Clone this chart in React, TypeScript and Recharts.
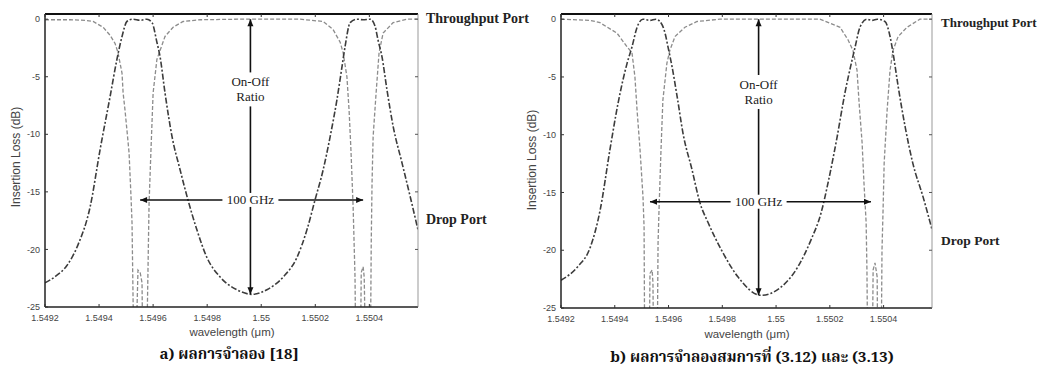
import React from "react";
import { LineChart, Line, XAxis, YAxis, ReferenceLine, ReferenceDot } from "recharts";

// ---- panel a) ----
const dropA_wl = [1.5492, 1.549241, 1.549281, 1.549322, 1.549367, 1.549404, 1.549441, 1.549466, 1.549485, 1.549503, 1.549526, 1.549552, 1.549577, 1.549596, 1.549614, 1.549626, 1.549644, 1.54967, 1.5497, 1.549729, 1.549762, 1.549799, 1.549848, 1.54991, 1.549966, 1.550021, 1.550081, 1.550132, 1.550169, 1.550199, 1.550229, 1.550255, 1.55028, 1.550299, 1.55031, 1.550329, 1.550354, 1.550377, 1.550403, 1.550421, 1.550432, 1.550447, 1.550465, 1.550488, 1.550521, 1.550551, 1.55058];
const dropA_db = [-22.9, -22.3, -21.4, -19.6, -16.3, -11.3, -6.7, -3.5, -1.5, -0.2, 0, -0.1, 0, -0.3, -2, -3.3, -6.4, -10.2, -13.1, -15.7, -18.3, -20.7, -22.4, -23.5, -23.9, -23.5, -22.4, -20.7, -18.3, -15.7, -13.1, -10.2, -7, -4.1, -2.4, -0.3, 0, -0.05, 0, -0.6, -1.8, -3.3, -6.1, -9.3, -12.5, -15.4, -18.3];
const thruA_wl = [1.5492, 1.549293, 1.549348, 1.549378, 1.549415, 1.549441, 1.549459, 1.54947, 1.549485, 1.549489, 1.549496, 1.549503, 1.549511, 1.549518, 1.549522, 1.549526, 1.549533, 1.549544, 1.549552, 1.549559, 1.549563, 1.549574, 1.549581, 1.549585, 1.549592, 1.5496, 1.549614, 1.549626, 1.549644, 1.549674, 1.549711, 1.549774, 1.549922, 1.550144, 1.550229, 1.550266, 1.550292, 1.550303, 1.550317, 1.550325, 1.550332, 1.55034, 1.550347, 1.550351, 1.550366, 1.55037, 1.550377, 1.550381, 1.550388, 1.550403, 1.550407, 1.55041, 1.550414, 1.550425, 1.550436, 1.550451, 1.550488, 1.550539, 1.55058];
const thruA_db = [-0.05, -0.05, -0.1, -0.2, -0.7, -1.4, -2.1, -2.9, -4.7, -6.4, -7.9, -9.6, -11.6, -15.3, -17.7, -24.6, -32, -21.8, -22, -22.9, -32, -32, -21.8, -16, -11.4, -6.4, -3.5, -2.7, -1.5, -0.7, -0.2, -0.05, 0, 0, -0.2, -0.9, -2, -2.9, -5, -7.9, -11.4, -16.3, -22.4, -32, -32, -22, -21.5, -22.4, -32, -32, -19.4, -14.2, -10.2, -6.4, -2.9, -1.2, -0.3, 0, 0];

// ---- panel b) ----
const dropB_wl = [1.5492, 1.549263, 1.549308, 1.549345, 1.549382, 1.549412, 1.549446, 1.549464, 1.549483, 1.549505, 1.549531, 1.549553, 1.549568, 1.549587, 1.549598, 1.549613, 1.549632, 1.549654, 1.549687, 1.549717, 1.549747, 1.549795, 1.549858, 1.549944, 1.550018, 1.550082, 1.55013, 1.550167, 1.550193, 1.550227, 1.550256, 1.550283, 1.550294, 1.550312, 1.550338, 1.550357, 1.550376, 1.550405, 1.550424, 1.550435, 1.550454, 1.55048, 1.550509, 1.550547, 1.55058];
const dropB_db = [-22.6, -21.4, -19.8, -16.6, -11.3, -7.3, -3.8, -2.4, -0.7, 0, -0.1, 0, -0.2, -1.2, -2.4, -4.1, -6.7, -9.9, -13.0, -15.9, -17.6, -19.9, -22.3, -23.9, -23.2, -21.4, -19.1, -16.8, -14.2, -10.2, -6.4, -3.5, -2.4, -0.7, 0, -0.1, 0, -0.2, -1.5, -2.9, -5.8, -9.3, -12.5, -15.4, -18.2];
const thruB_wl = [1.5492, 1.549308, 1.549345, 1.549408, 1.549446, 1.549464, 1.549475, 1.549483, 1.549494, 1.549505, 1.549509, 1.549512, 1.549527, 1.549531, 1.549539, 1.549542, 1.549546, 1.549557, 1.549561, 1.549565, 1.549572, 1.549579, 1.549594, 1.549605, 1.549624, 1.549661, 1.549706, 1.549791, 1.550089, 1.550163, 1.550238, 1.550268, 1.550286, 1.550301, 1.550309, 1.55032, 1.550327, 1.550335, 1.550338, 1.550342, 1.550357, 1.550361, 1.550368, 1.550376, 1.550379, 1.55039, 1.550394, 1.550398, 1.550402, 1.550413, 1.550424, 1.550435, 1.550454, 1.550487, 1.550535, 1.55058];
const thruB_db = [0, -0.1, -0.3, -1.2, -2.4, -2.9, -5, -7.9, -11.3, -15.4, -18, -32, -32, -22, -21.7, -22.8, -32, -32, -19.4, -16.2, -11.3, -7, -3.8, -2.7, -1.5, -0.7, -0.2, 0, 0, 0, -0.7, -1.8, -2.7, -4.4, -7.3, -10.7, -14.2, -17.6, -21.7, -32, -32, -21.7, -21.1, -22.3, -32, -32, -20, -16.5, -12.5, -7.9, -4.4, -2.7, -1.5, -0.7, 0, 0];

// axes
const wlTicks = [1.5492, 1.5494, 1.5496, 1.5498, 1.55, 1.5502, 1.5504];
const dbTicks = [0, -5, -10, -15, -20, -25];
const wlDomain = [1.5492, 1.55058];
const dbDomain = [-25, 0.45];

// annotations: [wavelength of on-off arrow, its bottom dB, label dB], [100GHz from, to, dB]
const onOffA = [1.54996, -23.9, -6.1];
const ghzA = [1.549552, 1.550377, -15.7];
const onOffB = [1.549935, -23.9, -6.3];
const ghzB = [1.549531, 1.550353, -15.8];

const rows = (wl: number[], db: number[]) => wl.map((w, i) => ({ wl: w, db: db[i] }));

const SANS = "Arial, 'Liberation Sans', Helvetica, sans-serif";
const SERIF = "'Times New Roman', 'Liberation Serif', 'DejaVu Serif', serif";
const THAI = "'Noto Serif Thai', 'Noto Sans Thai', 'Tlwg Typo', Norasi, Loma, Garuda, 'Liberation Serif', serif";

const fmtWl = (v: number) => String(+v.toFixed(4));

const BottomTick = ({ x, y, payload }: any) => (
  <g>
    <line x1={x} y1={y} x2={x} y2={y - 3} stroke="#333" />
    <text x={x} y={y + 14} textAnchor="middle" fontSize={9} fill="#444" fontFamily={SANS}>
      {fmtWl(payload.value)}
    </text>
  </g>
);
const TopTick = ({ x, y }: any) => <line x1={x} y1={y} x2={x} y2={y + 3} stroke="#333" />;
const LeftTick = ({ x, y, payload }: any) => (
  <g>
    <line x1={x} y1={y} x2={x + 3} y2={y} stroke="#333" />
    <text x={x - 5} y={y} dy="0.35em" textAnchor="end" fontSize={9} fill="#444" fontFamily={SANS}>
      {payload.value}
    </text>
  </g>
);
const RightTick = ({ x, y }: any) => <line x1={x} y1={y} x2={x - 3} y2={y} stroke="#555" />;

const head = (x: number, y: number, a: number) => {
  const L = 7, W = 3;
  const bx = x - L * Math.cos(a), by = y - L * Math.sin(a);
  const px = -Math.sin(a) * W, py = Math.cos(a) * W;
  return `${x},${y} ${bx + px},${by + py} ${bx - px},${by - py}`;
};

const DoubleArrow = ({ x1, y1, x2, y2 }: any) => {
  const a = Math.atan2(y2 - y1, x2 - x1);
  return (
    <g>
      <line x1={x1} y1={y1} x2={x2} y2={y2} stroke="#111" strokeWidth={1.6} />
      <polygon points={head(x2, y2, a)} fill="#111" />
      <polygon points={head(x1, y1, a + Math.PI)} fill="#111" />
    </g>
  );
};

const Note = ({ cx, cy, lines, w, h }: any) => (
  <g>
    <rect x={cx - w / 2} y={cy - h / 2} width={w} height={h} fill="#fff" />
    {lines.map((t: string, i: number) => (
      <text key={i} x={cx} y={cy + (i - (lines.length - 1) / 2) * 15} dy="0.35em" textAnchor="middle" fontSize={13} fill="#222" fontFamily={SERIF}>
        {t}
      </text>
    ))}
  </g>
);

function Panel({ left, width, margin, drop, thru, onOff, ghz }: any) {
  const common = { xAxisId: "b", yAxisId: "l" };
  return (
    <div style={{ position: "absolute", left, top: 0 }}>
      <LineChart width={width} height={374} margin={margin}>
        <XAxis xAxisId="b" dataKey="wl" type="number" domain={wlDomain} ticks={wlTicks} interval={0} allowDataOverflow height={20} tickSize={0} tickMargin={0} tickLine={false} axisLine={{ stroke: "#222", strokeWidth: 1.5 }} tick={(p: any) => <BottomTick {...p} />} />
        <XAxis xAxisId="t" orientation="top" dataKey="wl" type="number" domain={wlDomain} ticks={wlTicks} interval={0} allowDataOverflow height={1} tickSize={0} tickMargin={0} tickLine={false} axisLine={{ stroke: "#111", strokeWidth: 2.2 }} tick={(p: any) => <TopTick {...p} />} />
        <YAxis yAxisId="l" type="number" domain={dbDomain} ticks={dbTicks} interval={0} allowDataOverflow width={30} tickSize={0} tickMargin={0} tickLine={false} axisLine={{ stroke: "#222", strokeWidth: 1.5 }} tick={(p: any) => <LeftTick {...p} />} />
        <YAxis yAxisId="r" orientation="right" type="number" domain={dbDomain} ticks={dbTicks} interval={0} allowDataOverflow width={1} tickSize={0} tickMargin={0} tickLine={false} axisLine={{ stroke: "#999", strokeWidth: 1 }} tick={(p: any) => <RightTick {...p} />} />
        <Line {...common} data={thru} dataKey="db" type="linear" stroke="#8c8c8c" strokeWidth={1.3} strokeDasharray="4 2" dot={false} isAnimationActive={false} />
        <Line {...common} data={drop} dataKey="db" type="monotone" stroke="#3c3c3c" strokeWidth={1.6} strokeDasharray="6 2 2 2" dot={false} isAnimationActive={false} />
        <ReferenceLine {...common} segment={[{ x: onOff[0], y: 0 }, { x: onOff[0], y: onOff[1] }]} shape={(p: any) => <DoubleArrow {...p} />} />
        <ReferenceLine {...common} segment={[{ x: ghz[0], y: ghz[2] }, { x: ghz[1], y: ghz[2] }]} shape={(p: any) => <DoubleArrow {...p} />} />
        <ReferenceDot {...common} x={onOff[0]} y={onOff[2]} shape={(p: any) => <Note cx={p.cx} cy={p.cy} lines={["On-Off", "Ratio"]} w={46} h={34} />} />
        <ReferenceDot {...common} x={onOff[0]} y={ghz[2]} shape={(p: any) => <Note cx={p.cx} cy={p.cy} lines={["100 GHz"]} w={56} h={14} />} />
      </LineChart>
    </div>
  );
}

const abs = (left: number, top: number, extra: any = {}) => ({ position: "absolute" as const, left, top, whiteSpace: "nowrap" as const, lineHeight: 1, ...extra });

export default function App() {
  return (
    <div style={{ position: "absolute", left: 0, top: 0, width: 1058, height: 374, background: "#fff", overflow: "hidden" }}>
      <Panel left={0} width={529} margin={{ top: 13, right: 110, bottom: 47, left: 15 }} drop={rows(dropA_wl, dropA_db)} thru={rows(thruA_wl, thruA_db)} onOff={onOffA} ghz={ghzA} />
      <Panel left={516} width={542} margin={{ top: 13, right: 125, bottom: 46, left: 15 }} drop={rows(dropB_wl, dropB_db)} thru={rows(thruB_wl, thruB_db)} onOff={onOffB} ghz={ghzB} />

      {/* axis titles */}
      <div style={abs(16, 157, { transform: "translate(-50%,-50%) rotate(-90deg)", fontFamily: SANS, fontSize: 12, color: "#444" })}>Insertion Loss (dB)</div>
      <div style={abs(532, 160, { transform: "translate(-50%,-50%) rotate(-90deg)", fontFamily: SANS, fontSize: 12, color: "#444" })}>Insertion Loss (dB)</div>
      <div style={abs(232, 333, { transform: "translate(-50%,-50%)", fontFamily: SANS, fontSize: 11.5, color: "#444" })}>wavelength (μm)</div>
      <div style={abs(747, 335, { transform: "translate(-50%,-50%)", fontFamily: SANS, fontSize: 11.5, color: "#444" })}>wavelength (μm)</div>

      {/* port labels */}
      <div style={abs(426, 19, { transform: "translateY(-50%)", fontFamily: SERIF, fontWeight: 700, fontSize: 14, color: "#222" })}>Throughput Port</div>
      <div style={abs(426, 220, { transform: "translateY(-50%)", fontFamily: SERIF, fontWeight: 700, fontSize: 14, color: "#222" })}>Drop Port</div>
      <div style={abs(941, 22, { transform: "translateY(-50%)", fontFamily: SERIF, fontWeight: 700, fontSize: 13, color: "#222" })}>Throughput Port</div>
      <div style={abs(941, 241, { transform: "translateY(-50%)", fontFamily: SERIF, fontWeight: 700, fontSize: 13.5, color: "#222" })}>Drop Port</div>

      {/* captions */}
      <div style={abs(229, 355, { transform: "translate(-50%,-50%)", fontFamily: THAI, fontWeight: 700, fontSize: 15, color: "#111" })}>a) ผลการจำลอง [18]</div>
      <div style={abs(752, 358, { transform: "translate(-50%,-50%)", fontFamily: THAI, fontWeight: 700, fontSize: 15, color: "#111" })}>b) ผลการจำลองสมการที่ (3.12) และ (3.13)</div>
    </div>
  );
}
